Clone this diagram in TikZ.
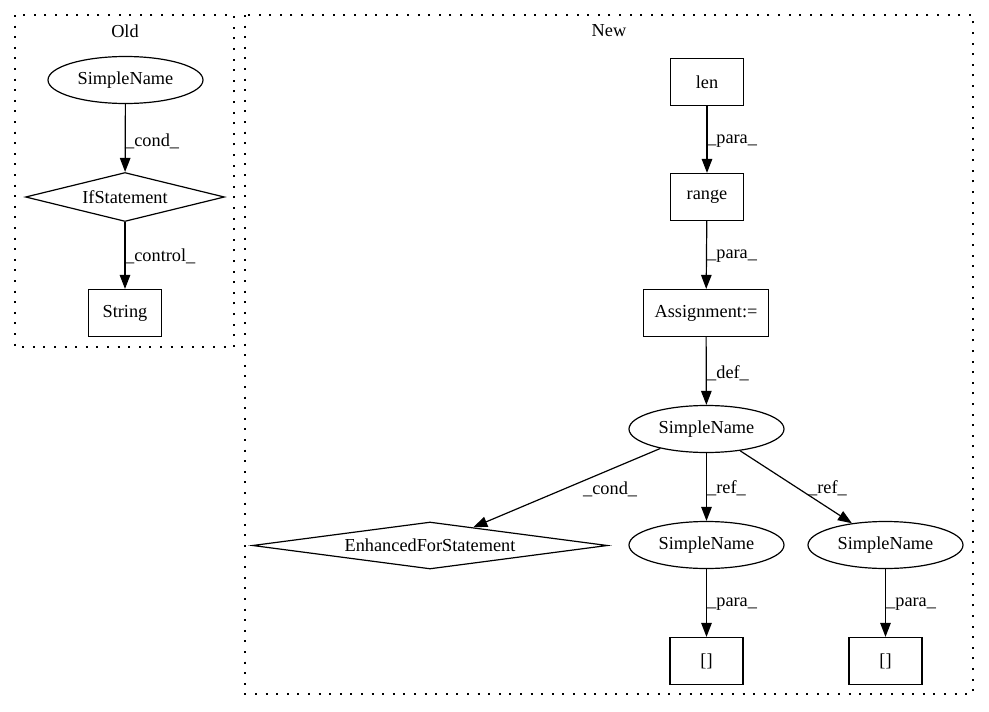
\documentclass[tikz,border=0pt]{standalone}
\usepackage{fontspec}
\setmainfont{Liberation Serif}
\usetikzlibrary{shapes.geometric,arrows.meta}
\tikzset{
  base/.style={draw, line width=1.2pt, inner sep=0pt, font=\fontsize{18.3}{22}\selectfont},
  ell/.style={base, ellipse, minimum width=155pt, minimum height=47pt},
  box/.style={base, rectangle, minimum width=73pt, minimum height=47pt},
  dia/.style={base, diamond, aspect=7},
  edge/.style={line width=1.2pt, -{Triangle[length=14pt, width=10.5pt]}},
  lbl/.style={inner sep=0pt, anchor=west, font=\fontsize{18.3}{22}\selectfont},
  ttl/.style={inner sep=0pt, font=\fontsize{18.3}{22}\selectfont},
  cluster/.style={line width=1.3pt, dash pattern=on 2pt off 8.6pt},
}
\begin{document}
\begin{tikzpicture}[x=1pt, y=-1pt]
\useasboundingbox (0,0) rectangle (989,712);
% clusters
\draw[cluster] (15,15) rectangle (234,347);
\draw[cluster] (245,15) rectangle (973,694);
\node[ttl] (tOld) at (125,31) {Old};
\node[ttl] (tNew) at (609,31) {New};
% Old
\node[ell] (osn) at (125.5,80) {SimpleName};
\node[dia, minimum width=199pt, minimum height=49pt] (oif) at (125,197) {IfStatement};
\node[box] (ostr) at (125,313) {String};
\draw[edge] (osn) -- (oif);
\draw[edge] (oif) -- (ostr);
\node[lbl] (l1) at (125,141) {\_cond\_};
\node[lbl] (l2) at (125,256) {\_control\_};
% New
\node[box] (len) at (707,82) {len};
\node[box] (range) at (707,197) {range};
\node[box, minimum width=125pt] (asg) at (706,313) {Assignment:=};
\node[ell] (nsn) at (706.5,429) {SimpleName};
\node[dia, minimum width=355pt, minimum height=47pt] (efs) at (430,545.5) {EnhancedForStatement};
\node[ell] (sn2) at (706.5,545) {SimpleName};
\node[ell] (sn3) at (885.5,545) {SimpleName};
\node[box] (b1) at (706.5,661) {[]};
\node[box] (b2) at (885.5,661) {[]};
\draw[edge] (len) -- (range);
\draw[edge] (range) -- (asg);
\draw[edge] (asg) -- (nsn);
\draw[edge] (nsn) -- (efs);
\draw[edge] (nsn) -- (sn2);
\draw[edge] (nsn) -- (sn3);
\draw[edge] (sn2) -- (b1);
\draw[edge] (sn3) -- (b2);
\node[lbl] (l3) at (707,141) {\_para\_};
\node[lbl] (l4) at (707,256) {\_para\_};
\node[lbl] (l5) at (707,373) {\_def\_};
\node[lbl] (l6) at (583,489) {\_cond\_};
\node[lbl] (l7) at (707,488) {\_ref\_};
\node[lbl] (l8) at (808,488) {\_ref\_};
\node[lbl] (l9) at (707,604) {\_para\_};
\node[lbl] (l10) at (886,604) {\_para\_};
\end{tikzpicture}
\end{document}
